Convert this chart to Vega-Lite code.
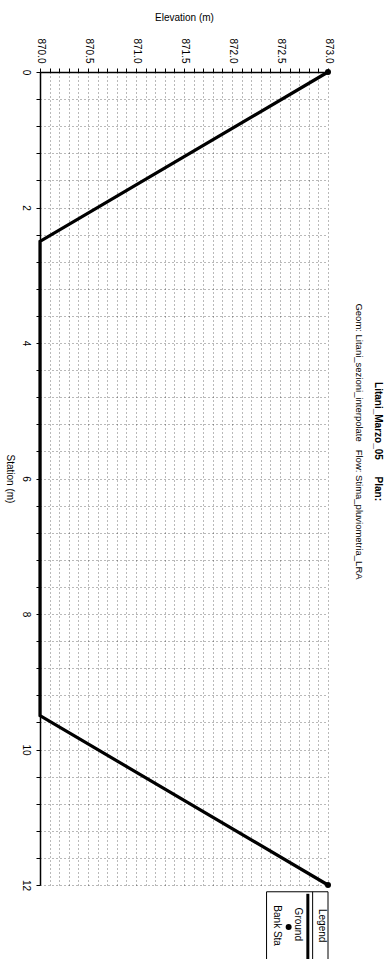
{
  "$schema": "https://vega.github.io/schema/vega-lite/v6.json",
  "width": 288,
  "height": 813,
  "autosize": {"type": "none"},
  "padding": {"left": 40, "top": 72, "right": 57, "bottom": 74},
  "background": "white",
  "config": {"view": {"stroke": null}, "font": "Liberation Sans"},
  "title": {
    "text": "Litani_Marzo_05\u00a0\u00a0\u00a0\u00a0\u00a0\u00a0Plan:",
    "subtitle": "Geom: Litani_sezioni_interpolate\u00a0\u00a0\u00a0Flow: Stima_pluviometria_LRA",
    "orient": "right",
    "anchor": "middle",
    "offset": 20,
    "dx": -37,
    "fontSize": 10,
    "fontWeight": "bold",
    "color": "#000",
    "subtitleFontSize": 9.5,
    "subtitleColor": "#000",
    "subtitlePadding": 9
  },
  "datasets": {
    "ground": [
      {"station": 0, "elevation": 873.0},
      {"station": 2.5, "elevation": 870.0},
      {"station": 9.5, "elevation": 870.0},
      {"station": 12, "elevation": 873.0}
    ],
    "bank": [
      {"station": 0, "elevation": 873.0},
      {"station": 12, "elevation": 873.0}
    ]
  },
  "layer": [
    {
      "data": {"name": "ground"},
      "mark": {"type": "line", "color": "#000", "strokeWidth": 3.2},
      "encoding": {
        "x": {
          "field": "elevation", "type": "quantitative",
          "scale": {"domain": [870, 873], "nice": false, "zero": false},
          "axis": {
            "orient": "top", "title": "Elevation (m)", "tickCount": 200,
            "values": [870,870.1,870.2,870.3,870.4,870.5,870.6,870.7,870.8,870.9,871,871.1,871.2,871.3,871.4,871.5,871.6,871.7,871.8,871.9,872,872.1,872.2,872.3,872.4,872.5,872.6,872.7,872.8,872.9,873],
            "labelExpr": "abs(datum.value*2-round(datum.value*2))<0.01 ? format(datum.value,'.1f') : ''",
            "labelAngle": 90, "labelAlign": "right", "labelBaseline": "middle",
            "labelPadding": 5, "tickSize": 4, "labelFontSize": 10, "labelFlush": false, "labelOverlap": false,
            "titleFontSize": 10, "titleFontWeight": "normal", "titlePadding": 15,
            "grid": true, "gridDash": [1, 3], "gridColor": "#000", "gridOpacity": 0.55,
            "domainColor": "#000", "domainWidth": 1.5, "tickColor": "#000", "labelColor": "#000", "titleColor": "#000"
          }
        },
        "y": {
          "field": "station", "type": "quantitative",
          "scale": {"domain": [0, 12], "nice": false, "zero": false, "reverse": true},
          "axis": {
            "orient": "left", "title": "Station (m)", "tickCount": 200,
            "values": [0,0.4,0.8,1.2,1.6,2,2.4,2.8,3.2,3.6,4,4.4,4.8,5.2,5.6,6,6.4,6.8,7.2,7.6,8,8.4,8.8,9.2,9.6,10,10.4,10.8,11.2,11.6,12],
            "labelExpr": "abs(datum.value/2-round(datum.value/2))<0.01 ? format(datum.value,'d') : ''",
            "labelAngle": 90, "labelAlign": "center", "labelBaseline": "top",
            "labelPadding": 6, "tickSize": 4, "labelFontSize": 10, "labelFlush": false, "labelOverlap": false,
            "titleAngle": 90, "titleBaseline": "top", "titleFontSize": 10, "titleFontWeight": "normal", "titlePadding": 6,
            "grid": true, "gridDash": [1, 3], "gridColor": "#000", "gridOpacity": 0.55,
            "domainColor": "#000", "domainWidth": 1.5, "tickColor": "#000", "labelColor": "#000", "titleColor": "#000"
          }
        },
        "order": {"field": "station", "type": "quantitative"}
      }
    },
    {
      "data": {"name": "bank"},
      "mark": {"type": "point", "filled": true, "color": "#000", "size": 36, "opacity": 1},
      "encoding": {
        "x": {"field": "elevation", "type": "quantitative"},
        "y": {"field": "station", "type": "quantitative"}
      }
    },
    {
      "data": {"values": [{}]},
      "mark": {"type": "rect", "fill": "white", "stroke": "#000", "strokeWidth": 1},
      "encoding": {
        "x": {"datum": 872.36}, "x2": {"datum": 873.0},
        "y": {"datum": 12.1}, "y2": {"datum": 13.3}
      }
    },
    {
      "data": {"values": [{}]},
      "mark": {"type": "rule", "color": "#000", "strokeWidth": 1},
      "encoding": {
        "x": {"datum": 872.84},
        "y": {"datum": 12.1}, "y2": {"datum": 13.3}
      }
    },
    {
      "data": {"values": [{}]},
      "mark": {"type": "rule", "color": "#000", "strokeWidth": 3},
      "encoding": {
        "x": {"datum": 872.79},
        "y": {"datum": 12.13}, "y2": {"datum": 13.3}
      }
    },
    {
      "data": {"values": [{}]},
      "mark": {"type": "point", "filled": true, "color": "#000", "size": 36, "opacity": 1},
      "encoding": {
        "x": {"datum": 872.59},
        "y": {"datum": 12.62}
      }
    },
    {
      "data": {"values": [{"label": "Legend", "pos": 872.94, "st": 12.6}, {"label": "Ground", "pos": 872.69, "st": 12.58}, {"label": "Bank Sta", "pos": 872.47, "st": 12.6}]},
      "mark": {"type": "text", "angle": 90, "align": "center", "baseline": "middle", "fontSize": 10, "color": "#000"},
      "encoding": {
        "x": {"field": "pos", "type": "quantitative"},
        "y": {"field": "st", "type": "quantitative"},
        "text": {"field": "label"}
      }
    }
  ]
}
